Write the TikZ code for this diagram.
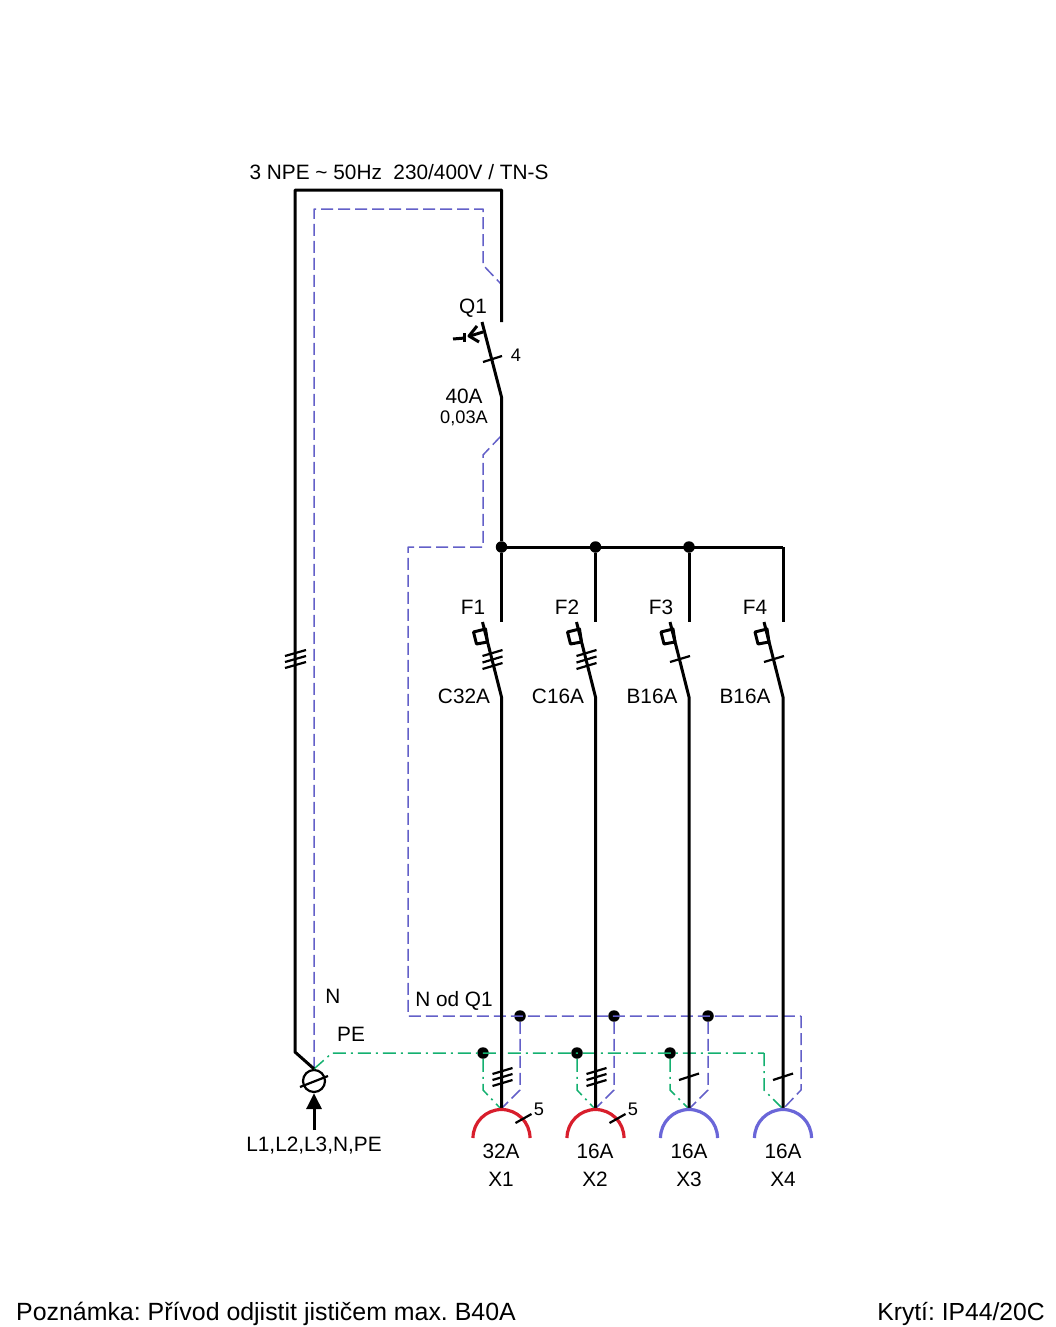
\documentclass[tikz,border=0pt]{standalone}
\usepackage{fontspec}
\setmainfont{Liberation Sans}
\frenchspacing
\usetikzlibrary{arrows.meta}
\tikzset{
  wire/.style={line width=3pt},
  tick/.style={line width=2.2pt},
  nwire/.style={line width=1.5pt,color=nblue,dash pattern=on 12pt off 5pt},
  pewire/.style={line width=1.5pt,color=pegreen,dash pattern=on 13pt off 5pt on 2pt off 5pt},
  dot/.style={circle,fill=black,inner sep=0pt,minimum size=11.5pt},
  lab/.style={inner sep=0pt,font=\fontsize{20.8}{20.8}\selectfont},
  small/.style={inner sep=0pt,font=\fontsize{18.2}{18.2}\selectfont},
  note/.style={inner sep=0pt,font=\fontsize{24.7}{24.7}\selectfont},
}
\definecolor{nblue}{HTML}{6360C8}
\definecolor{pegreen}{HTML}{14B070}
\definecolor{sockred}{HTML}{D81E2C}
\definecolor{sockblue}{HTML}{6A66D8}
\begin{document}
\begin{tikzpicture}[x=1pt,y=-1pt,line join=round]
	\useasboundingbox (0,0) rectangle (1056,1327);
	% incoming line
	\coordinate (feedA) at (295,1052);
	\coordinate (feedB) at (295,190);
	\coordinate (feedC) at (501.5,190);
	\coordinate (qTop) at (501.5,322);
	\coordinate (qBlade) at (482,322);
	\coordinate (qOut) at (501.5,397);
	\node[dot] (bus1) at (501.5,547) {};
	\node[dot] (bus2) at (595.5,547) {};
	\node[dot] (bus3) at (689,547) {};
	\coordinate (bus4) at (783,547);
	\node[circle,draw,line width=2.2pt,inner sep=0pt,minimum size=22pt] (entry) at (314,1081) {};
	\coordinate (entryIn) at (314,1130);
	% neutral and PE points
	\node[dot] (nd1) at (520,1016) {};
	\node[dot] (nd2) at (614,1016) {};
	\node[dot] (nd3) at (708,1016) {};
	\coordinate (nd4) at (801,1016);
	\node[dot] (pd1) at (483,1053) {};
	\node[dot] (pd2) at (577,1053) {};
	\node[dot] (pd3) at (670,1053) {};
	\coordinate (pd4) at (764,1053);
	\coordinate (pd0) at (332,1053);
	\coordinate (nLeft) at (408,1016);

	\draw[nwire] (entry.north) -- (314,209) -- (483,209) -- (483,265) -- (501,284);
	\draw[nwire] (501,436) -- (483,455) -- (483,547) -- (408,547) -- (nLeft) -- (nd4);
	\draw[pewire] (entry.north) -- (pd0) -- (pd4);
	\foreach \n/\p/\s in {nd1/pd1/501,nd2/pd2/595,nd3/pd3/689,nd4/pd4/783}{
		\draw[nwire] (\n) -- ++(0,74) -- (\s,1109);
		\draw[pewire] (\p) -- ++(0,37) -- (\s,1109);
	}

	\draw[wire] (entry.north) -- (feedA) -- (feedB) -- (feedC) -- (qTop);
	\draw[wire] (qBlade) -- (qOut) -- (bus1);
	\draw[wire] (bus1) -- (bus4);
	\foreach \a/\b in {285/656,285/662,285/668} \draw[tick] (\a,\b) -- ++(21,-6);
	\draw[tick] (483,362) -- (502,356);
	% Q1 operating mechanism
	\draw[wire] (483,332) -- (470,336);
	\draw[wire] (477,326) -- (469,336) -- (479,342);
	\draw[wire] (453,339) -- (465,338);
	\draw[wire] (464,333) -- (464,342);
	% entry
	\draw[tick] (300,1087) -- (328,1076);
	\draw[wire,-{Triangle[length=16pt,width=15pt]}] (entryIn) -- (entry.south);

	% outgoing circuits
	\foreach \s/\o/\col/\k in {501.5/bus1/sockred/3,595.5/bus2/sockred/3,689/bus3/sockblue/1,783/bus4/sockblue/1}{
		\draw[wire] (\o) -- (\s,622);
		\draw[wire] (\s-19,622) -- (\s,697) -- (\s,1109);
		\draw[wire] (\s-28,632) -- (\s-16,629) -- (\s-14,642) -- (\s-25,644) -- cycle;
		\draw[line width=3.2pt,\col] (\s-28.5,1138) arc[start angle=180,end angle=360,radius=28.5];
		\ifnum\k=3
			\foreach \d in {0,6.5,13}{\draw[tick] (\s-19,656+\d) -- ++(20,-6);}
			\foreach \d in {0,6,12}{\draw[tick] (\s-9,1074+\d) -- ++(20,-6);}
			\draw[tick] (\s+14,1123) -- ++(16,-9);
		\else
			\draw[tick] (\s-19,662) -- ++(20,-6);
			\draw[tick] (\s-10,1080) -- ++(20,-6.5);
		\fi
	}

	\node[lab] (supply) at (399,172) {3 NPE \textasciitilde{} 50Hz\ \ 230/400V / TN-S};
	\node[lab] (q1) at (473,308) {Q1};
	\node[small] (poles) at (516,355) {4};
	\node[lab] (rated) at (464,396) {40A};
	\node[small] (resid) at (464,418) {0,03A};
	\foreach \nm/\x/\t in {f1/473/F1,f2/567/F2,f3/661/F3,f4/755/F4}
		\node[lab] (\nm) at (\x,607) {\t};
	\foreach \nm/\x/\t in {c1/464/C32A,c2/558/C16A,c3/652/B16A,c4/745/B16A}
		\node[lab] (\nm) at (\x,696) {\t};
	\node[lab] (nlab) at (333,996) {N};
	\node[lab] (pelab) at (351,1034) {PE};
	\node[lab] (nq) at (454,1001) {N od Q1};
	\node[lab] (inlab) at (314,1146) {L1,L2,L3,N,PE};
	\foreach \nm/\x/\t in {i1/501/32A,i2/595/16A,i3/689/16A,i4/783/16A}
		\node[lab] (\nm) at (\x,1151) {\t};
	\foreach \nm/\x/\t in {x1/501/X1,x2/595/X2,x3/689/X3,x4/783/X4}
		\node[lab] (\nm) at (\x,1179) {\t};
	\node[small] (five1) at (539,1109) {5};
	\node[small] (five2) at (633,1109) {5};
	\node[inner sep=0pt,font=\fontsize{24.9}{24.9}\selectfont,anchor=base west] (remark) at (16,1320) {Poznámka: Přívod odjistit jističem max. B40A};
	\node[note,anchor=base east] (ip) at (1045,1320) {Krytí: IP44/20C};
\end{tikzpicture}
\end{document}
